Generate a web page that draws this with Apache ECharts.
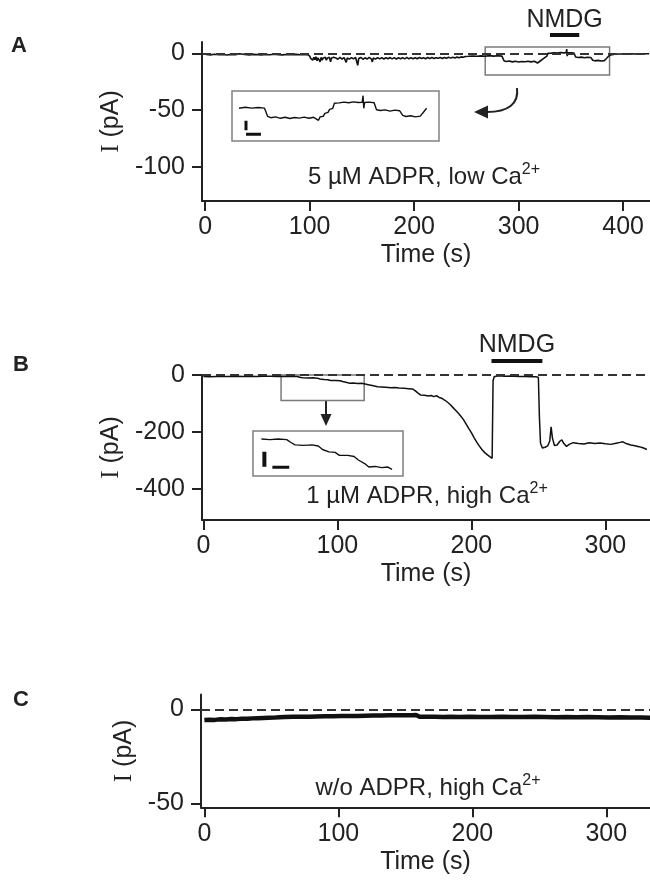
<!DOCTYPE html>
<html>
<head>
<meta charset="utf-8">
<title>ADPR currents</title>
<script src="https://cdn.jsdelivr.net/npm/echarts@6/dist/echarts.min.js"></script>
<style>
  html, body { margin: 0; padding: 0; background: #fff; }
  #chart { width: 650px; height: 881px; }
</style>
</head>
<body>
<div id="chart"></div>
<script>
// ---- data (time in s, current in pA) ----
// A: 5 µM ADPR, low Ca2+
var traceA = [
  [1,-1.0],[5,-1.3],[9,-0.8],[13,-1.2],[17,-1.0],[21,-1.4],[25,-0.9],[29,-1.1],[33,-0.4],[34,-1.2],
  [38,-1.0],[42,-1.3],[46,-0.9],[50,-1.1],[54,-1.4],[58,-1.0],[62,-1.2],[66,-0.8],[70,-1.1],[74,-1.3],
  [78,-1.0],[82,-1.2],[86,-0.9],[90,-1.1],[94,-1.2],[98,-1.0],
  [100,-2.5],[101,-4.5],[102,-3],[103,-6],[104,-3.5],[105,-5.5],[106,-3],[107,-6.5],[108,-4],[109,-5],
  [110,-7.5],[111,-3.5],[112,-6],[113,-4],[114,-5.5],[115,-3.5],[116,-6],[117,-4],[118,-5],[119,-3.5],
  [120,-7.5],[121,-4],[122,-5.5],[123,-3.5],[124,-5],[125,-4],
  [127,-5.2],[129,-3.6],[131,-5],[133,-3.8],[134,-5.5],[135,-8],[136,-4],[138,-5.1],[140,-3.7],[142,-4.9],
  [144,-3.6],[145,-5],[146,-10.5],[147,-4.5],[149,-3.6],[151,-5.2],[153,-3.9],[155,-5],[157,-3.6],[159,-4.8],
  [160,-7.5],[161,-4],[163,-5.1],[165,-3.7],[167,-4.9],[169,-3.8],[171,-5],[173,-3.9],[175,-4.8],[177,-3.7],
  [179,-4.9],[181,-3.8],[183,-5.0],[185,-3.9],[187,-4.7],[189,-3.8],[191,-4.9],[193,-3.6],[195,-4.8],[197,-3.9],
  [199,-4.7],[201,-3.8],[203,-4.8],[205,-3.7],[207,-4.6],[209,-3.8],[211,-4.7],[213,-3.6],[215,-4.5],[217,-3.7],
  [219,-4.6],[221,-3.8],[223,-4.4],[225,-3.6],[227,-4.5],[229,-3.6],[231,-4.3],[233,-3.5],[235,-4.2],[237,-3.4],
  [239,-4.0],[241,-3.3],[243,-3.8],[245,-3.1],[247,-3.5],[249,-2.8],[252,-2.6],[256,-2.3],
  [260,-2.5],[264,-2.2],[268,-2.5],[272,-2.0],[276,-2.4],[280,-2.1],[284,-2.4],
  [286,-6.5],[288,-7.2],[291,-6.8],[294,-7.5],[297,-7.0],[300,-7.6],[303,-7.1],[306,-7.4],[309,-6.9],[312,-7.5],
  [315,-7.0],[318,-8.5],[319,-6.8],[321,-6.5],[322,-5],[324,-4.5],[325,-3],[327,-2.5],[328,0],[331,0.2],
  [334,0.6],[337,0.3],[340,0.7],[343,0.4],[345.5,0.5],[346,3.8],[346.5,-2.5],[347,0.4],[350,0.6],[353,0.3],
  [354.5,-3.2],[357,-3.6],[360,-3.3],[363,-3.9],[366,-3.4],[369,-3.7],[371,-6.0],[373,-6.6],[376,-6.2],[379,-6.8],
  [382,-6.4],[384,-4.5],[386,-2.5],[388,-1.5],[392,-0.8],[397,-0.6],[402,-0.5],[407,-0.4],[412,-0.5],[417,-0.3],
  [422,-0.4],[425,-0.3]
];
var nmdgA = [330, 358];
var boxA = [268, 387, -19, 5.5];                       // zoomed window: t0, t1, iMin, iMax
var scaleBarA = [272.4, -8.7, -13.5, 272.4, 281.8, -15.5]; // vx, vTop, vBottom, hStart, hEnd, hLevel

// B: 1 µM ADPR, high Ca2+
var traceB = [
  [0,-5],[5,-6],[10,-5],[15,-5.5],[20,-5],[25,-4.5],[30,-5],[35,-4.5],[40,-5],[45,-4],
  [50,-4.5],[55,-5],[58,-5],[62,-5.5],[66,-5],[70,-5.5],[72,-8],[74,-10],[78,-10.5],[82,-10],
  [85,-11],[87,-14],[90,-16],[93,-16.5],[95,-19],[99,-19],[102,-20],[104,-23],[107,-26],[109,-29],
  [112,-28.5],[115,-29.5],[118,-29],[120,-31],[123,-34],[126,-37],[130,-41],[133,-42],[136,-43],[140,-45],
  [143,-44],[146,-46],[150,-47],[153,-48],[156,-49],[158,-55],[160,-63],[162,-70],[165,-71],[168,-74],
  [170,-72],[172,-76],[174,-73],[176,-79],[178,-82],[180,-88],[182,-95],[184,-103],[186,-113],[188,-123],
  [190,-133],[192,-144],[194,-156],[196,-172],[198,-188],[200,-203],[202,-220],[204,-236],[206,-250],[208,-263],
  [210,-273],[212,-281],[214,-288],[215.5,-293],[216.2,-20],[217,-6],[220,-3],[225,-4],[230,-3.5],[235,-5],
  [240,-5.5],[245,-6],[248,-6.5],[250,-8],[250.8,-150],[251.6,-240],[253,-257],[255,-254],[257,-249],[258.5,-232],
  [259.5,-182],[260.5,-222],[262,-248],[264,-246],[266,-233],[267.5,-228],[269,-241],[271,-251],[273,-244],[276,-238],
  [280,-241],[284,-243],[288,-238],[292,-241],[296,-239],[300,-242],[304,-244],[308,-240],[311,-237],[313,-235],
  [316,-242],[319,-246],[322,-249],[325,-252],[328,-256],[331,-262]
];
var nmdgB = [215, 253];
var boxB = [58, 120, -90, 20];
var scaleBarB = [59.4, -15.9, -28.8, 63.2, 71.2, -29.3];

// C: w/o ADPR, high Ca2+
var traceC = [
  [0,-5.6],[4,-5.4],[8,-5.5],[12,-5.2],[16,-5.3],[20,-5.0],[24,-5.1],[28,-4.9],[32,-4.9],[36,-4.7],
  [40,-4.6],[44,-4.5],[48,-4.4],[52,-4.3],[56,-4.1],[60,-4.0],[66,-3.9],[72,-3.8],[78,-3.8],[84,-3.7],
  [90,-3.6],[96,-3.6],[102,-3.5],[108,-3.4],[114,-3.4],[120,-3.3],[126,-3.2],[132,-3.2],[138,-3.1],[144,-3.1],
  [150,-3.0],[155,-3.0],[158,-2.9],[159.5,-3.4],[161,-3.9],[166,-3.9],[172,-3.9],[178,-4.0],[184,-3.9],[190,-4.0],
  [198,-3.9],[206,-4.0],[214,-4.0],[222,-3.9],[230,-4.0],[238,-4.0],[246,-3.9],[254,-4.0],[262,-4.1],[270,-4.0],
  [278,-4.1],[286,-4.0],[294,-4.1],[302,-4.2],[310,-4.1],[318,-4.2],[326,-4.3],[333,-4.4]
];

var ticksX_A = [0, 100, 200, 300, 400];
var ticksX_BC = [0, 100, 200, 300];
var ticksY_A = [-100, -50, 0];
var ticksY_B = [-400, -200, 0];
var ticksY_C = [-50, 0];

// ---- style ----
var FONT = '"Liberation Sans", Arial, sans-serif';
var INK = '#222';
var TRACE = '#111';
var FS = 25;

function windowOf(trace, t0, t1) {
    return trace.filter(function (p) { return p[0] >= t0 && p[0] <= t1; });
}

function mainX(grid, min, max, ticks) {
    return {
        gridIndex: grid, type: 'value', min: min, max: max,
        name: 'Time (s)', nameLocation: 'middle', nameGap: 42,
        nameTextStyle: { fontSize: FS, fontFamily: FONT, color: INK },
        axisLine: { show: true, onZero: false, lineStyle: { color: INK, width: 2 } },
        axisTick: { show: true, length: 10, customValues: ticks, lineStyle: { color: INK, width: 2 } },
        axisLabel: { customValues: ticks, fontSize: FS, fontFamily: FONT, color: INK, margin: 14 },
        splitLine: { show: false }
    };
}
function mainY(grid, min, max, ticks) {
    return {
        gridIndex: grid, type: 'value', min: min, max: max,
        name: '{i|I} (pA)', nameLocation: 'middle', nameGap: 64, nameRotate: 90,
        nameTextStyle: {
            fontSize: FS, fontFamily: FONT, color: INK,
            rich: { i: { fontSize: FS, fontFamily: '"Liberation Serif", serif', color: INK } }
        },
        axisLine: { show: true, onZero: false, lineStyle: { color: INK, width: 2 } },
        axisTick: { show: true, length: 10, customValues: ticks, lineStyle: { color: INK, width: 2 } },
        axisLabel: { customValues: ticks, fontSize: FS, fontFamily: FONT, color: INK, margin: 17 },
        splitLine: { show: false }
    };
}
function hiddenAxis(grid, min, max) {
    return { gridIndex: grid, type: 'value', min: min, max: max, show: false, splitLine: { show: false } };
}
function traceSeries(x, data, width) {
    return {
        type: 'line', xAxisIndex: x, yAxisIndex: x, data: data, symbol: 'none',
        lineStyle: { color: TRACE, width: width }, silent: true
    };
}
function zeroLine() {
    return {
        silent: true, symbol: 'none', label: { show: false },
        lineStyle: { color: '#333', width: 1.8, type: [9, 5] },
        data: [{ yAxis: 0 }]
    };
}
function zoomBox(b) {
    return {
        silent: true, label: { show: false },
        itemStyle: { color: 'rgba(0,0,0,0)', borderColor: '#7a7a7a', borderWidth: 1.5 },
        data: [[{ xAxis: b[0], yAxis: b[3] }, { xAxis: b[1], yAxis: b[2] }]]
    };
}
function scaleBars(x, s, wv, wh) {
    return [
        traceSeries(x, [[s[0], s[1]], [s[0], s[2]]], wv),
        traceSeries(x, [[s[3], s[5]], [s[4], s[5]]], wh)
    ];
}
var insetGrid = { show: true, borderColor: '#808080', borderWidth: 1.5, backgroundColor: 'rgba(0,0,0,0)' };

var mainA = traceSeries(0, traceA, 1.6);
mainA.markLine = zeroLine();
mainA.markArea = zoomBox(boxA);
var mainB = traceSeries(3, traceB, 1.5);
mainB.markLine = zeroLine();
mainB.markArea = zoomBox(boxB);
var mainC = traceSeries(6, traceC, 4.5);
mainC.markLine = zeroLine();

var option = {
    animation: false,
    backgroundColor: '#fff',
    grid: [
        { left: 202, top: 42, width: 448, height: 159 },                          // 0 A
        Object.assign({ left: 232, top: 91, width: 207, height: 50 }, insetGrid),   // 1 A inset
        { left: 202, top: 30, width: 448, height: 10 },                           // 2 A NMDG
        { left: 202, top: 375, width: 448, height: 145 },                         // 3 B
        Object.assign({ left: 253, top: 431, width: 150, height: 45 }, insetGrid),  // 4 B inset
        { left: 202, top: 356, width: 448, height: 10 },                          // 5 B NMDG
        { left: 201, top: 694.5, width: 449, height: 112.8 }                      // 6 C
    ],
    xAxis: [
        mainX(0, -3, 425.7, ticksX_A),
        hiddenAxis(1, 263.6, 393.8),
        hiddenAxis(2, -3, 425.7),
        mainX(3, -1, 333.3, ticksX_BC),
        hiddenAxis(4, 54, 125.2),
        hiddenAxis(5, -1, 333.3),
        mainX(6, -2.5, 332.6, ticksX_BC)
    ],
    yAxis: [
        mainY(0, -130, 10, ticksY_A),
        hiddenAxis(1, -18.85, 6.15),
        hiddenAxis(2, 0, 1),
        mainY(3, -510, 0, ticksY_B),
        hiddenAxis(4, -36.7, 1.86),
        hiddenAxis(5, 0, 1),
        mainY(6, -52, 8, ticksY_C)
    ],
    series: [
        mainA,
        traceSeries(1, windowOf(traceA, boxA[0], boxA[1]), 1.4),
        traceSeries(2, [[nmdgA[0], 0.5], [nmdgA[1], 0.5]], 4),
        mainB,
        traceSeries(4, windowOf(traceB, boxB[0], boxB[1]), 1.4),
        traceSeries(5, [[nmdgB[0], 0.5], [nmdgB[1], 0.5]], 4),
        mainC
    ].concat(scaleBars(1, scaleBarA, 3, 3)).concat(scaleBars(4, scaleBarB, 4, 3))
};

var chart = echarts.init(document.getElementById('chart'));
chart.setOption(option);

var midA = chart.convertToPixel({ gridIndex: 2 }, [(nmdgA[0] + nmdgA[1]) / 2, 0.5]);
var midB = chart.convertToPixel({ gridIndex: 5 }, [(nmdgB[0] + nmdgB[1]) / 2, 0.5]);

function label(text, x, y, size, weight) {
    return {
        type: 'text', x: x, y: y, silent: true,
        style: { text: text, fontSize: size, fontWeight: weight || 'normal', fontFamily: FONT,
                 fill: INK, align: 'center', verticalAlign: 'middle' }
    };
}
function condition(text, x, y) {
    var t = label(text, x, y, 24);
    t.style.rich = { sup: { fontSize: 16, fontFamily: FONT, fill: INK, padding: [0, 0, 14, 0] } };
    return t;
}

chart.setOption({
    graphic: [
        label('A', 19, 46, 22, 'bold'),
        label('B', 21, 365, 22, 'bold'),
        label('C', 21, 700, 22, 'bold'),
        label('NMDG', midA[0], 20, FS),
        label('NMDG', midB[0], 345, FS),
        condition('5 µM ADPR, low Ca{sup|2+}', 424, 177),
        condition('1 µM ADPR, high Ca{sup|2+}', 427, 496),
        condition('w/o ADPR, high Ca{sup|2+}', 428, 788),
        // curved arrow from zoom box to inset (A)
        { type: 'bezierCurve', silent: true,
          shape: { x1: 517, y1: 88, cpx1: 519, cpy1: 104, cpx2: 508, cpy2: 112, x2: 487, y2: 112 },
          style: { stroke: INK, lineWidth: 2, fill: null } },
        { type: 'polygon', silent: true, shape: { points: [[474, 112], [488, 105.5], [488, 118.5]] },
          style: { fill: INK } },
        // straight arrow (B)
        { type: 'line', silent: true, shape: { x1: 326, y1: 401, x2: 326, y2: 416 },
          style: { stroke: INK, lineWidth: 2 } },
        { type: 'polygon', silent: true, shape: { points: [[326, 426], [320.5, 414], [331.5, 414]] },
          style: { fill: INK } }
    ]
});
</script>
</body>
</html>
